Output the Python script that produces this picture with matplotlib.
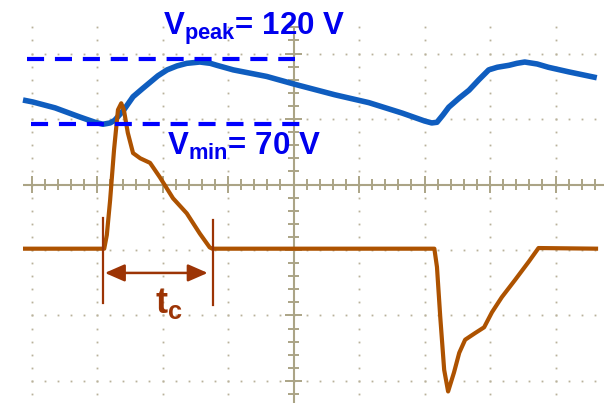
import numpy as np
import matplotlib
matplotlib.use("Agg")
import matplotlib.pyplot as plt
from matplotlib.patches import ArrowStyle

plt.rcParams['font.family'] = ['Liberation Sans', 'DejaVu Sans']
plt.rcParams['mathtext.fontset'] = 'custom'
plt.rcParams['mathtext.rm'] = 'Liberation Sans:bold'
plt.rcParams['mathtext.bf'] = 'Liberation Sans:bold'
plt.rcParams['mathtext.it'] = 'Liberation Sans:bold'
plt.rcParams['mathtext.sf'] = 'Liberation Sans:bold'

# ---- data (in screen divisions, centre of graticule = 0,0) ----
voltage_t = [-4.13, -3.98, -3.64, -3.26, -3.03, -2.91, -2.80, -2.73, -2.59, -2.45,
             -2.31, -2.19, -2.07, -1.93, -1.78, -1.63, -1.43, -1.27, -1.17, -0.92,
             -0.41, 0.02, 0.63, 1.15, 1.66, 2.00, 2.11, 2.19, 2.28, 2.37,
             2.53, 2.68, 2.83, 2.98, 3.11, 3.29, 3.41, 3.53, 3.72, 3.89,
             4.20, 4.63]
voltage_v = [1.29, 1.26, 1.17, 1.03, 0.95, 0.92, 0.94, 0.98, 1.14, 1.34,
             1.46, 1.56, 1.66, 1.75, 1.81, 1.85, 1.87, 1.85, 1.82, 1.75,
             1.65, 1.53, 1.37, 1.25, 1.09, 0.97, 0.94, 0.95, 1.06, 1.18,
             1.32, 1.44, 1.60, 1.75, 1.79, 1.82, 1.85, 1.87, 1.84, 1.79,
             1.72, 1.63]

current_t = [-4.13, -2.89, -2.85, -2.80, -2.74, -2.68, -2.63, -2.59, -2.53, -2.45,
             -2.34, -2.19, -2.04, -1.84, -1.63, -1.43, -1.28, -1.24, 2.15, 2.19,
             2.24, 2.30, 2.36, 2.45, 2.53, 2.62, 2.77, 2.91, 3.03, 3.18,
             3.38, 3.59, 3.74, 4.65]
current_i = [-0.98, -0.98, -0.77, -0.24, 0.53, 1.14, 1.24, 1.14, 0.79, 0.48,
             0.40, 0.33, 0.11, -0.21, -0.44, -0.75, -0.96, -0.98, -0.98, -1.26,
             -2.02, -2.83, -3.16, -2.87, -2.57, -2.37, -2.27, -2.18, -1.95, -1.72,
             -1.46, -1.18, -0.97, -0.98]

v_peak_level = 1.92
v_min_level = 0.92
peak_label = r"$\mathrm{V_{peak}}$= 120 V"
min_label = r"$\mathrm{V_{min}}$= 70 V"
tc_label = r"$\mathrm{t_{c}}$"
tc_start = -2.91
tc_end = -1.23

# ---- figure ----
fig = plt.figure(figsize=(6.04, 4.03), dpi=100)
ax = fig.add_axes([0, 0, 1, 1])
ax.set_xlim(-4.481, 4.740)
ax.set_ylim(-3.336, 2.817)
ax.axis('off')

grid_c = '#b9b29a'
axis_c = '#aba486'

# graticule dots
xs_fine = np.round(np.arange(-4.0, 4.8, 0.2), 2)
ys_fine = np.round(np.arange(-3.2, 2.5, 0.2), 2)
for yr in [-3, -2, -1, 1, 2]:
    ax.plot(xs_fine, np.full_like(xs_fine, yr), ls='none', marker='s', ms=1.3,
            color=grid_c, mec='none', zorder=1)
for xc in [-4, -3, -2, -1, 1, 2, 3, 4]:
    ax.plot(np.full_like(ys_fine, xc), ys_fine, ls='none', marker='s', ms=1.3,
            color=grid_c, mec='none', zorder=1)

# centre axes with ticks
ax.plot([-4.13, 4.74], [0, 0], color=axis_c, lw=1.5, zorder=2, solid_capstyle='butt')
ax.plot([0, 0], [-3.34, 2.4], color=axis_c, lw=1.5, zorder=2, solid_capstyle='butt')
for k in np.round(np.arange(-4.0, 4.8, 0.2), 2):
    h = 0.125 if abs(k - round(k)) < 1e-6 else 0.09
    ax.plot([k, k], [-h, h], color=axis_c, lw=1.4, zorder=2, solid_capstyle='butt')
for k in np.round(np.arange(-3.2, 2.5, 0.2), 2):
    h = 0.125 if abs(k - round(k)) < 1e-6 else 0.09
    ax.plot([-h, h], [k, k], color=axis_c, lw=1.4, zorder=2, solid_capstyle='butt')

# traces
ax.plot(voltage_t, voltage_v, color='#0f5dbf', lw=4.0, zorder=4,
        solid_joinstyle='round', solid_capstyle='butt')
ax.plot(current_t, current_i, color='#ad5200', lw=3.0, zorder=4,
        solid_joinstyle='round', solid_capstyle='butt')

# dashed level lines
ax.plot([-4.07, 0.02], [v_peak_level, v_peak_level], color='#0000ff', lw=3.0,
        dashes=(4.1, 2.6), dash_capstyle='butt', zorder=5)
ax.plot([-4.01, 0.10], [v_min_level, v_min_level], color='#0000ff', lw=3.0,
        dashes=(4.1, 2.6), dash_capstyle='butt', zorder=5)

# labels
ax.text(-1.99, 2.28, peak_label, color='#0000ee', fontsize=22.5, fontweight='bold',
        ha='left', va='baseline', zorder=6)
ax.text(-1.93, 0.45, min_label, color='#0000ee', fontsize=22.5, fontweight='bold',
        ha='left', va='baseline', zorder=6)

# tc annotation
tc_c = '#9c3405'
ax.plot([tc_start, tc_start], [-0.51, -1.81], color=tc_c, lw=1.6, zorder=5)
ax.plot([tc_end, tc_end], [-0.54, -1.84], color=tc_c, lw=1.6, zorder=5)
ax.annotate('', xy=(-1.31, -1.35), xytext=(-2.88, -1.35),
            arrowprops=dict(arrowstyle=ArrowStyle('<|-|>', head_length=0.8, head_width=0.35),
                            mutation_scale=15, color=tc_c, lw=1.8, shrinkA=0, shrinkB=0),
            zorder=5)
ax.text(-2.11, -1.96, tc_label, color=tc_c, fontsize=26, fontweight='bold',
        ha='left', va='baseline', zorder=6)

fig.savefig('out.png', dpi=100)
